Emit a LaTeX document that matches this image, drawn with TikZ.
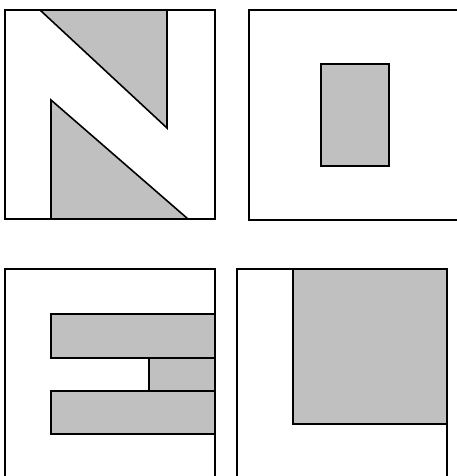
\documentclass[tikz,border=0pt]{standalone}
\usepackage{tikz}
\definecolor{pgray}{RGB}{192,192,192}
\tikzset{
  frm/.style={draw=black,line width=1.6pt},
  blk/.style={draw=black,fill=pgray,line width=1.6pt,line join=miter},
}
\begin{document}
\begin{tikzpicture}[x=1pt,y=-1pt]
\useasboundingbox (0,0) rectangle (457,476);
\clip (0,0) rectangle (457,476);
% top left panel
\fill[white] (0,0) rectangle (457,476);
\draw[blk] (40,10) -- (167,10) -- (167,128) -- cycle;
\draw[blk] (51,100) -- (51,219) -- (188,219) -- cycle;
\draw[frm] (5,10) rectangle (215,219);
% top right panel
\draw[frm] (249,10) rectangle (470,220);
\draw[blk] (321,64) rectangle (389,166);
% bottom left panel
\draw[blk] (51,314) rectangle (215,358);
\draw[blk] (149,358) rectangle (215,391);
\draw[blk] (51,391) rectangle (215,434);
\draw[frm] (5,269) rectangle (215,490);
% bottom right panel
\draw[blk] (293,269) rectangle (447,424);
\draw[frm] (237,269) rectangle (447,490);
\end{tikzpicture}
\end{document}
